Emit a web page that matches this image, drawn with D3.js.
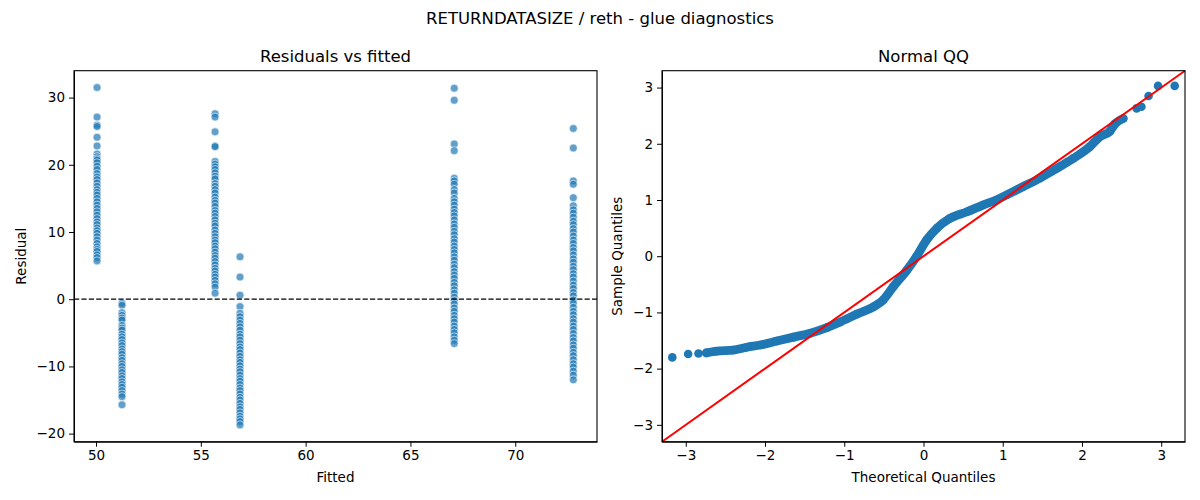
<html>
<head>
<script src="https://d3js.org/d3.v7.min.js"></script>
<style>
  body { margin: 0; background: #fff; }
  svg text { font-family: "DejaVu Sans", sans-serif; fill: #000; }
  .tick text { font-size: 13.5px; }
  .tick line, .domain { stroke: #000; }
</style>
</head>
<body>
<div id="chart"></div>
<script>
// fitted value of each group and the residuals
const fittedLevels = [50.05, 51.24, 55.68, 56.87, 67.09, 72.77];
const resid50 = [31.5, 27.1, 25.9, 25.7, 24.1, 22.8, 21.6, 21.2, 20.9, 20.7, 20.3, 19.8, 19.3, 18.7, 18.2, 17.8, 17.3, 16.8, 16.3, 15.9, 15.5, 15.0, 14.5, 14.0, 13.5, 13.0, 12.5, 12.0, 11.5, 11.1, 10.6, 10.2, 9.8, 9.3, 8.8, 8.3, 7.8, 7.4, 7.1, 6.6, 6.2, 5.7];
const resid51 = [-0.6, -0.9, -2.0, -2.4, -2.8, -3.1, -3.9, -4.3, -4.6, -5.2, -5.6, -6.0, -6.5, -6.9, -7.4, -7.8, -8.2, -8.7, -9.1, -9.6, -10.0, -10.5, -10.9, -11.4, -11.8, -12.3, -12.7, -13.1, -13.6, -14.1, -14.5, -15.7];
const resid55 = [27.6, 27.1, 24.9, 22.8, 22.7, 20.5, 20.1, 19.7, 19.3, 18.8, 18.3, 17.9, 17.2, 16.8, 16.3, 15.8, 15.2, 14.7, 14.3, 13.8, 13.2, 12.8, 12.3, 11.8, 11.3, 10.9, 10.3, 9.8, 9.3, 8.8, 8.4, 7.9, 7.5, 7.0, 6.5, 6.1, 5.6, 5.1, 4.6, 4.2, 3.7, 3.3, 2.8, 2.3, 1.8, 0.9];
const resid56 = [6.3, 3.3, 0.6, -1.1, -2.1, -2.6, -3.1, -3.6, -4.1, -4.6, -5.2, -5.6, -6.1, -6.6, -7.1, -7.5, -8.0, -8.5, -9.0, -9.4, -9.9, -10.4, -10.8, -11.3, -11.8, -12.2, -12.7, -13.2, -13.6, -14.1, -14.6, -15.0, -15.5, -16.0, -16.4, -16.9, -17.4, -17.8, -18.2, -18.7];
const resid67 = [31.4, 29.6, 23.1, 22.1, 18.0, 17.6, 17.1, 16.3, 15.8, 15.0, 14.5, 14.0, 13.4, 12.9, 12.4, 11.8, 11.2, 10.7, 10.1, 9.6, 9.0, 8.5, 7.9, 7.4, 6.9, 6.3, 5.8, 5.2, 4.7, 4.1, 3.6, 3.1, 2.5, 2.0, 1.4, 0.9, 0.3, -0.2, -0.7, -1.3, -1.8, -2.4, -2.9, -3.4, -4.0, -4.5, -5.0, -5.6, -6.1, -6.6];
const resid72 = [25.4, 22.5, 17.6, 17.1, 15.1, 13.9, 13.3, 12.8, 12.2, 11.6, 11.1, 10.5, 10.0, 9.4, 8.8, 8.3, 7.7, 7.2, 6.6, 6.0, 5.5, 4.9, 4.4, 3.8, 3.3, 2.7, 2.1, 1.6, 1.0, 0.5, -0.1, -0.6, -1.2, -1.8, -2.3, -2.9, -3.4, -4.0, -4.5, -5.1, -5.7, -6.2, -6.8, -7.3, -7.9, -8.4, -9.0, -9.6, -10.1, -10.7, -11.3, -12.0];
const residGroups = [resid50, resid51, resid55, resid56, resid67, resid72];

// QQ points (theoretical, sample)
const qqTheo = [-3.17, -2.97, -2.84, -2.74, -2.61, -2.40, -2.23, -2.06, -1.85, -1.64, -1.43, -1.22, -1.05, -0.84, -0.63, -0.51, -0.38, -0.21, -0.09, 0.04, 0.17, 0.33, 0.55, 0.75, 0.92, 1.05, 1.26, 1.47, 1.68, 1.89, 2.10, 2.23, 2.35, 2.42, 2.52, 2.69, 2.75, 2.84, 2.96, 3.17];
const qqSample = [-1.80, -1.74, -1.73, -1.72, -1.69, -1.67, -1.62, -1.58, -1.51, -1.44, -1.37, -1.27, -1.17, -1.03, -0.90, -0.78, -0.54, -0.25, -0.01, 0.29, 0.50, 0.67, 0.79, 0.91, 1.00, 1.09, 1.24, 1.39, 1.56, 1.74, 1.95, 2.13, 2.22, 2.36, 2.45, 2.63, 2.66, 2.85, 3.03, 3.03];
const qqLine = [-3.3, 3.3];

const xTicksL = [50, 55, 60, 65, 70];
const yTicksL = [-20, -10, 0, 10, 20, 30];
const ticksR = [-3, -2, -1, 0, 1, 2, 3];

const blue = "#1f77b4";
const plotTop = 70.7, plotBottom = 441.7;
const minus = d => d < 0 ? "\u2212" + Math.abs(d) : d;

const svg = d3.select("#chart").append("svg")
  .attr("width", 1200).attr("height", 500);

svg.append("text")
  .attr("x", 600).attr("y", 24)
  .attr("text-anchor", "middle")
  .style("font-size", "16.5px")
  .text("RETURNDATASIZE / reth - glue diagnostics");

// ---- left: residuals vs fitted
const xL = d3.scaleLinear().domain([48.95, 73.9]).range([74, 597]);
const yL = d3.scaleLinear().domain([-21.2, 34.0]).range([plotBottom, plotTop]);

const left = svg.append("g");

const pts = [];
residGroups.forEach((g, i) => g.forEach(r => pts.push({ f: fittedLevels[i], r: r })));

left.append("g").selectAll("circle")
  .data(pts).join("circle")
  .attr("cx", d => xL(d.f))
  .attr("cy", d => yL(d.r))
  .attr("r", 4)
  .attr("fill", blue)
  .attr("fill-opacity", 0.7)
  .attr("stroke", "#fff")
  .attr("stroke-width", 0.6);

left.append("line")
  .attr("x1", 74).attr("x2", 597)
  .attr("y1", yL(0)).attr("y2", yL(0))
  .attr("stroke", "#000").attr("stroke-width", 1.3)
  .attr("stroke-dasharray", "5.2,2.2");

left.append("g").attr("transform", `translate(0,${plotBottom})`)
  .call(d3.axisBottom(xL).tickValues(xTicksL).tickSize(5).tickPadding(4).tickSizeOuter(0));
left.append("g").attr("transform", "translate(74,0)")
  .call(d3.axisLeft(yL).tickValues(yTicksL).tickSize(5).tickPadding(4).tickSizeOuter(0)
    .tickFormat(minus));

left.append("rect")
  .attr("x", 74).attr("y", plotTop).attr("width", 523).attr("height", plotBottom - plotTop)
  .attr("fill", "none").attr("stroke", "#000").attr("stroke-width", 1.1);

left.append("text").attr("x", 335.5).attr("y", 62)
  .attr("text-anchor", "middle").style("font-size", "16.5px")
  .text("Residuals vs fitted");
left.append("text").attr("x", 335.5).attr("y", 482)
  .attr("text-anchor", "middle").style("font-size", "13.5px")
  .text("Fitted");
left.append("text")
  .attr("transform", `translate(26,${(plotTop + plotBottom) / 2}) rotate(-90)`)
  .attr("text-anchor", "middle").style("font-size", "13.5px")
  .text("Residual");

// ---- right: normal QQ
const xR = d3.scaleLinear().domain([-3.3, 3.3]).range([662, 1185]);
const yR = d3.scaleLinear().domain([-3.3, 3.3]).range([plotBottom, plotTop]);

const right = svg.append("g");
const qq = qqTheo.map((t, i) => ({ t: t, s: qqSample[i] }));

// the dense middle of the sample is a solid band of overlapping dots
right.append("path")
  .datum(qq.filter(d => d.t > -2.8 && d.t < 2.6))
  .attr("d", d3.line().x(d => xR(d.t)).y(d => yR(d.s)).curve(d3.curveMonotoneX))
  .attr("fill", "none")
  .attr("stroke", blue)
  .attr("stroke-width", 8.8)
  .attr("stroke-linecap", "round")
  .attr("stroke-linejoin", "round");

right.append("g").selectAll("circle")
  .data(qq).join("circle")
  .attr("cx", d => xR(d.t))
  .attr("cy", d => yR(d.s))
  .attr("r", 4.3)
  .attr("fill", blue);

right.append("line")
  .attr("x1", xR(qqLine[0])).attr("y1", yR(qqLine[0]))
  .attr("x2", xR(qqLine[1])).attr("y2", yR(qqLine[1]))
  .attr("stroke", "red").attr("stroke-width", 2);

right.append("g").attr("transform", `translate(0,${plotBottom})`)
  .call(d3.axisBottom(xR).tickValues(ticksR).tickSize(5).tickPadding(4).tickSizeOuter(0)
    .tickFormat(minus));
right.append("g").attr("transform", "translate(662,0)")
  .call(d3.axisLeft(yR).tickValues(ticksR).tickSize(5).tickPadding(4).tickSizeOuter(0)
    .tickFormat(minus));

right.append("rect")
  .attr("x", 662).attr("y", plotTop).attr("width", 523).attr("height", plotBottom - plotTop)
  .attr("fill", "none").attr("stroke", "#000").attr("stroke-width", 1.1);

right.append("text").attr("x", 923.5).attr("y", 62)
  .attr("text-anchor", "middle").style("font-size", "16.5px")
  .text("Normal QQ");
right.append("text").attr("x", 923.5).attr("y", 482)
  .attr("text-anchor", "middle").style("font-size", "13.5px")
  .text("Theoretical Quantiles");
right.append("text")
  .attr("transform", `translate(622,${(plotTop + plotBottom) / 2}) rotate(-90)`)
  .attr("text-anchor", "middle").style("font-size", "13.5px")
  .text("Sample Quantiles");
</script>
</body>
</html>
